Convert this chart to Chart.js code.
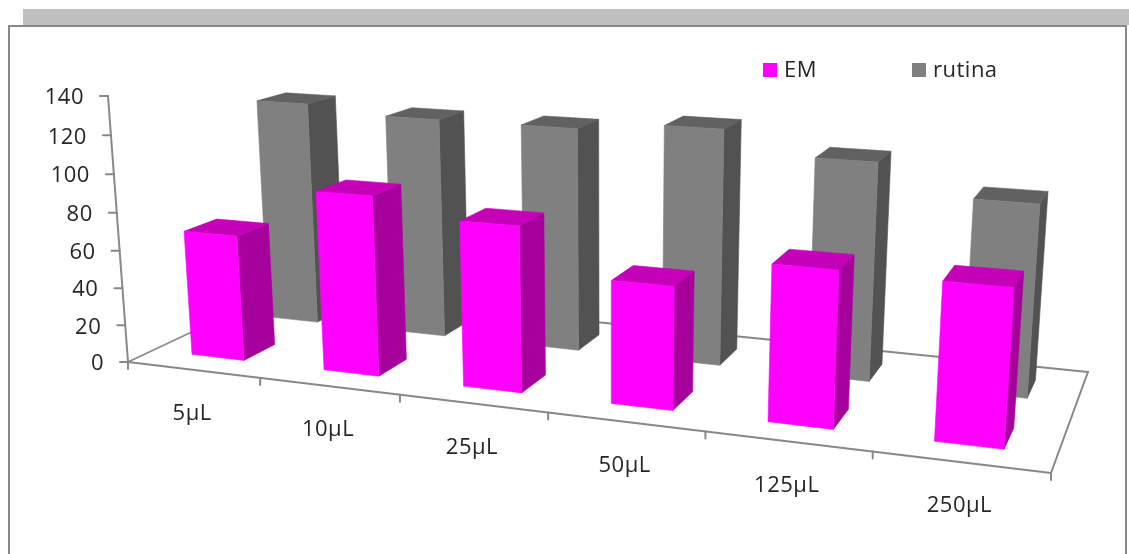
<!DOCTYPE html>
<html>
<head>
<meta charset="utf-8">
<style>
  html, body { margin: 0; padding: 0; background: #fff; }
  canvas { display: block; }
</style>
<script src="https://cdn.jsdelivr.net/npm/chart.js@4/dist/chart.umd.min.js"></script>
</head>
<body>
<canvas id="chart" width="1129" height="554"></canvas>
<script>
// Absorbance-style results per extract volume
const categories = ['5µL', '10µL', '25µL', '50µL', '125µL', '250µL'];
const emValues = [67, 94, 85, 62, 77, 76];
const rutinaValues = [124, 120, 120, 124.5, 113, 98];

const FONT = '22px "Open Sans"';
const TEXT = '#262626';
const AXIS = '#888888';
const BAR_SHARE = 0.4;

const palette = {
  EM: { front: '#ff00ff', side: '#a6009c', top: '#c400b8' },
  rutina: { front: '#808080', side: '#525252', top: '#616161' }
};

// Oblique camera: plane position (s along categories, t into depth, n up the value axis) to canvas
const cam = {
  a: 750.1, b: 195.5, c: 128,
  d: 33.2, e: -28.1, f: 362,
  g: -0.1645, h: 0.1513,
  k: -0.03987, vx: 610, vy: 6768
};
function project(s, t, n) {
  const w = cam.g * s + cam.h * t + cam.k * n + 1;
  return {
    x: (cam.a * s + cam.b * t + cam.c + cam.k * cam.vx * n) / w,
    y: (cam.d * s + cam.e * t + cam.f + cam.k * cam.vy * n) / w
  };
}

function polygon(ctx, pts, colour) {
  ctx.beginPath();
  pts.forEach((p, i) => (i ? ctx.lineTo(p.x, p.y) : ctx.moveTo(p.x, p.y)));
  ctx.closePath();
  ctx.fillStyle = colour;
  ctx.strokeStyle = colour;
  ctx.lineWidth = 0.6;
  ctx.fill();
  ctx.stroke();
}

function segment(ctx, p, q, width) {
  ctx.beginPath();
  ctx.moveTo(p.x, p.y);
  ctx.lineTo(q.x, q.y);
  ctx.lineWidth = width;
  ctx.strokeStyle = AXIS;
  ctx.stroke();
}

const scene = {
  id: 'scene',
  beforeDraw(chart) {
    const { ctx } = chart;
    ctx.save();
    // Window frame around the plot
    ctx.fillStyle = '#bfbfbf';
    ctx.fillRect(23, 9, 1106, 16);
    ctx.fillStyle = AXIS;
    ctx.fillRect(8, 25, 1119, 2);
    ctx.fillRect(8, 25, 2, 529);
    ctx.fillRect(1125, 25, 2, 529);

    // Floor outline
    ctx.lineCap = 'round';
    const fl = project(0, 0, 0), fr = project(1, 0, 0), br = project(1, 1, 0), bl = project(0, 1, 0);
    segment(ctx, fl, bl, 1.5);
    segment(ctx, bl, br, 1.9);
    segment(ctx, br, fr, 2);
    segment(ctx, fr, fl, 2);

    // Category ticks along the front edge
    categories.forEach((_, i) => {
      const p = project(i / categories.length, 0, 0);
      segment(ctx, p, { x: p.x, y: p.y + 7 }, 2);
    });
    segment(ctx, fr, { x: fr.x, y: fr.y + 7 }, 2);

    // Value axis and its ticks
    const yScale = chart.scales.y;
    const nOf = v => (yScale.bottom - yScale.getPixelForValue(v)) / yScale.height;
    segment(ctx, project(0, 0, 0), project(0, 0, 1), 2);
    yScale.ticks.forEach(t => {
      const p = project(0, 0, nOf(t.value));
      segment(ctx, p, { x: p.x - 8, y: p.y }, 2);
    });
    ctx.restore();
  },
  beforeDatasetsDraw(chart) {
    const { ctx, chartArea: area } = chart;
    const rows = chart.data.datasets.length;
    ctx.save();
    // Back row first so the nearer boxes overlap it
    for (let r = rows - 1; r >= 0; r--) {
      const meta = chart.getDatasetMeta(r);
      const colours = palette[chart.data.datasets[r].label];
      const t0 = (r + (1 - BAR_SHARE) / 2) / rows;
      const t1 = (r + (1 + BAR_SHARE) / 2) / rows;
      meta.data.forEach(bar => {
        const s0 = (bar.x - bar.width / 2 - area.left) / area.width;
        const s1 = (bar.x + bar.width / 2 - area.left) / area.width;
        const n = (bar.base - bar.y) / area.height;
        const f00 = project(s0, t0, 0), f10 = project(s1, t0, 0);
        const f01 = project(s0, t0, n), f11 = project(s1, t0, n);
        const b10 = project(s1, t1, 0), b11 = project(s1, t1, n), b01 = project(s0, t1, n);
        polygon(ctx, [f10, b10, b11, f11], colours.side);
        polygon(ctx, [f01, f11, b11, b01], colours.top);
        polygon(ctx, [f00, f10, f11, f01], colours.front);
      });
    }
    ctx.restore();
    return false;
  },
  afterDraw(chart) {
    const { ctx } = chart;
    const yScale = chart.scales.y;
    const xScale = chart.scales.x;
    ctx.save();
    ctx.font = FONT;
    ctx.letterSpacing = '0.5px';
    ctx.fillStyle = TEXT;
    ctx.textBaseline = 'middle';

    // Value labels follow the slanted axis
    ctx.textAlign = 'right';
    yScale.ticks.forEach(t => {
      const n = (yScale.bottom - yScale.getPixelForValue(t.value)) / yScale.height;
      const p = project(0, 0, n);
      ctx.fillText(t.label, p.x - 24, p.y + 2);
    });

    // Category labels sit below the front edge
    ctx.textAlign = 'center';
    categories.forEach((label, i) => {
      const s = (xScale.getPixelForValue(i) - chart.chartArea.left) / chart.chartArea.width;
      const p = project(s, 0, 0);
      ctx.fillText(label, p.x - 1, p.y + 44);
    });

    // Legend
    ctx.textAlign = 'left';
    const legendX = [763, 912];
    chart.data.datasets.forEach((ds, i) => {
      ctx.fillStyle = ds.backgroundColor;
      ctx.fillRect(legendX[i], 63, 14, 14);
      ctx.fillStyle = TEXT;
      ctx.fillText(ds.label, legendX[i] + 21, 71);
    });
    ctx.restore();
  }
};

new Chart(document.getElementById('chart'), {
  type: 'bar',
  data: {
    labels: categories,
    datasets: [
      { label: 'EM', data: emValues, backgroundColor: palette.EM.front, grouped: false, barPercentage: BAR_SHARE, categoryPercentage: 1 },
      { label: 'rutina', data: rutinaValues, backgroundColor: palette.rutina.front, grouped: false, barPercentage: BAR_SHARE, categoryPercentage: 1 }
    ]
  },
  options: {
    responsive: false,
    animation: false,
    layout: { padding: { left: 128, right: 78, top: 96, bottom: 192 } },
    plugins: { legend: { display: false }, tooltip: { enabled: false } },
    scales: {
      x: { display: false },
      y: { display: false, min: 0, max: 140, ticks: { stepSize: 20 } }
    }
  },
  plugins: [scene]
});
</script>
</body>
</html>
